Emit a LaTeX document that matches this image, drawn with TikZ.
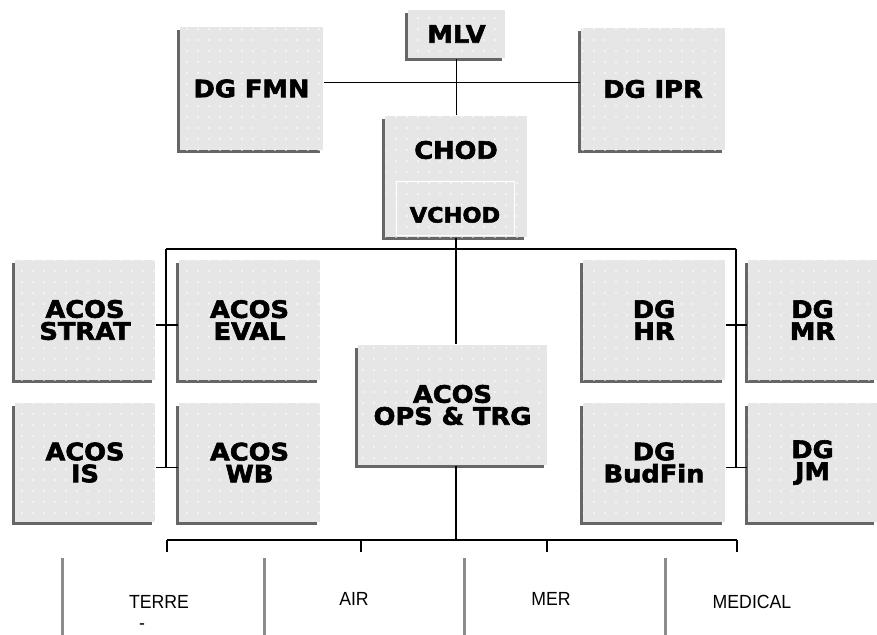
\documentclass[tikz,border=0pt]{standalone}
\usepackage{fontspec}
\newfontfamily\boxfont{DejaVu Sans}[BoldFont={DejaVu Sans Bold}, FakeStretch=1.07,
  BoldFeatures={FakeBold=2.4}]
\newfontfamily\unitfont{Liberation Sans}[FakeStretch=0.93]
\usetikzlibrary{shadows,patterns.meta}
\definecolor{boxgray}{HTML}{E6E6E6}
\definecolor{edgegray}{HTML}{666666}

\begin{document}
\begin{tikzpicture}[
  x=1pt, y=-1pt,
  line width=1.3pt,
  orgbox/.style={fill=boxgray, inner sep=0pt, align=center,
                 font=\boxfont\bfseries\fontsize{24}{22}\selectfont,
                 minimum width=142, minimum height=120,
                 general shadow={fill=edgegray, shadow xshift=-3pt, shadow yshift=-3pt},
                 postaction={pattern={Dots[distance=11pt, radius=0.8pt]}, pattern color=white}},
  boxlabel/.style={inner sep=0pt, font=\boxfont\bfseries\fontsize{24}{22}\selectfont},
  unitbox/.style={fill=white, inner sep=0pt, minimum height=94,
                  font=\unitfont\fontsize{19}{22}\selectfont,
                  general shadow={fill=black!45, shadow xshift=-3pt, shadow yshift=-3pt}},
]
  \useasboundingbox (0,0) rectangle (877,634);

  % top level
  \node[orgbox, minimum width=97, minimum height=48] (mlv) at (456.5,34) {MLV};
  \node[orgbox, minimum width=143, minimum height=123] (fmn) at (251.5,88.5) {DG FMN};
  \node[orgbox, minimum width=144, minimum height=122] (ipr) at (653,89) {DG IPR};

  \node[orgbox, minimum width=142, minimum height=121] (chod) at (456,176.5) {};
  \node[boxlabel] (chodname) at (456,150) {CHOD};
  \node[draw=white, line width=0.8pt, minimum width=118, minimum height=54,
        font=\boxfont\bfseries\fontsize{21}{22}\selectfont,
        text height=29pt, text depth=0pt] (vchod) at (455,208) {VCHOD};

  % staff
  \node[orgbox, minimum width=140] (strat) at (85,320) {ACOS\\STRAT};
  \node[orgbox, minimum width=141] (eval) at (249.5,320) {ACOS\\EVAL};
  \node[orgbox, minimum width=140, minimum height=119] (is) at (85,462.5) {ACOS\\IS};
  \node[orgbox, minimum width=141, minimum height=119] (wb) at (249.5,462.5) {ACOS\\WB};
  \node[orgbox, minimum width=189] (ops) at (452.5,405) {ACOS\\OPS \& TRG};
  \node[orgbox] (hr) at (654,320) {DG\\HR};
  \node[orgbox, minimum width=129] (mr) at (812.5,320) {DG\\MR};
  \node[orgbox, minimum height=119] (budfin) at (654,462.5) {DG\\BudFin};
  \node[orgbox, minimum width=129, minimum height=119] (jm) at (812.5,462.5) {DG\\JM};

  % components
  \node[unitbox, minimum width=190] (terre) at (159,602) {TERRE};
  \node[unitbox, minimum width=176, minimum height=88] (air) at (354,599) {AIR};
  \node[unitbox, minimum width=170, minimum height=88] (mer) at (551,599) {MER};
  \node[unitbox, minimum width=170] (medical) at (752,602) {MEDICAL};
  \node[inner sep=0pt, font=\unitfont\fontsize{19}{22}\selectfont] (terredash) at (142,627) {-};

  \coordinate (busl) at (166,249);
  \coordinate (busr) at (736,249);
  \coordinate (bbl) at (167,540);
  \coordinate (bb2) at (361,540);
  \coordinate (bb3) at (547,540);
  \coordinate (bbr) at (737,540);

  \draw (mlv.south) -- (mlv.south |- chod.north);
  \draw ([yshift=6pt]fmn.east) -- ([yshift=6pt]fmn.east -| ipr.west);
  \draw (chod.south) -- (chod.south |- ops.north);
  \draw (ops.south -| chod.south) -- (chod.south |- bbl);

  % staff bus
  \draw (busl) -- (busr);
  \draw (busl) |- ([yshift=-5pt]is.east);
  \draw (busr) |- ([yshift=-5pt]budfin.east);
  \draw ([yshift=-5pt]strat.east) -- ([yshift=-5pt]eval.west);
  \draw ([yshift=-5pt]is.east) -- ([yshift=-5pt]wb.west);
  \draw ([yshift=-5pt]hr.east) -- ([yshift=-5pt]mr.west);
  \draw ([yshift=-5pt]budfin.east) -- ([yshift=-5pt]jm.west);

  % component bus
  \draw (bbl) -- (bbr);
  \foreach \c/\n in {bbl/terre, bb2/air, bb3/mer, bbr/medical}
    \draw[shorten >=2pt] (\c) -- (\c |- \n.north);
\end{tikzpicture}
\end{document}
